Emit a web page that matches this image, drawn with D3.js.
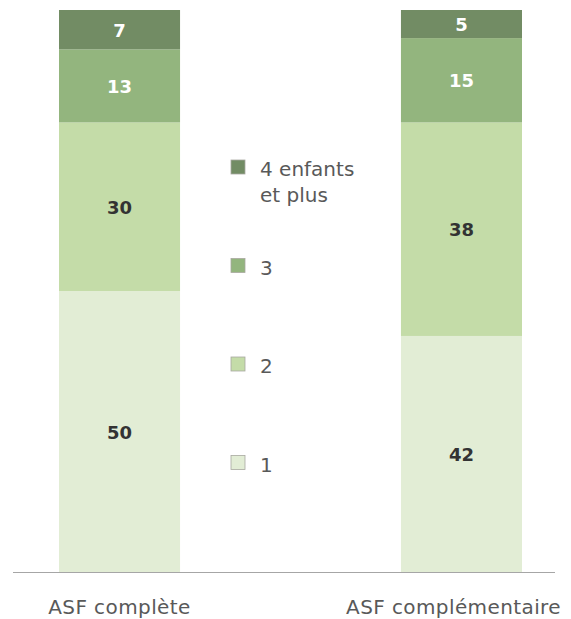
<!DOCTYPE html>
<html>
<head>
<meta charset="utf-8">
<script src="https://cdn.jsdelivr.net/npm/d3@7"></script>
<style>
  body { margin: 0; background: #fff; }
  text { font-family: "DejaVu Sans", sans-serif; }
</style>
</head>
<body>
<div id="chart"></div>
<script>
// categories and series (percent of families)
const categories = ["ASF complète", "ASF complémentaire"];
const seriesNames = ["1", "2", "3", "4 enfants et plus"];
const one = [50, 42];
const two = [30, 38];
const three = [13, 15];
const fourPlus = [7, 5];
const colors = ["#e2edd5", "#c4dca8", "#93b57e", "#728c64"];
const labelColors = ["#333333", "#333333", "#ffffff", "#ffffff"];

const width = 571, height = 619;
const svg = d3.select("#chart").append("svg")
    .attr("width", width).attr("height", height);

const x = d3.scaleBand().domain(categories).range([59, 522]).paddingInner(0.646).paddingOuter(0);
const y = d3.scaleLinear().domain([0, 100]).range([572, 10]);

const rows = categories.map((c, i) => ({
  cat: c, "1": one[i], "2": two[i], "3": three[i], "4 enfants et plus": fourPlus[i]
}));
const stacked = d3.stack().keys(seriesNames)(rows);

const layer = svg.append("g").selectAll("g")
    .data(stacked)
    .join("g")
    .attr("fill", (d, i) => colors[i]);

layer.selectAll("rect")
    .data(d => d)
    .join("rect")
    .attr("x", d => x(d.data.cat))
    .attr("width", x.bandwidth())
    .attr("y", d => y(d[1]))
    .attr("height", d => y(d[0]) - y(d[1]));

layer.selectAll("text")
    .data((d, i) => d.map(v => ({v, i})))
    .join("text")
    .attr("x", d => x(d.v.data.cat) + x.bandwidth() / 2)
    .attr("y", d => y((d.v[0] + d.v[1]) / 2) + 7)
    .attr("text-anchor", "middle")
    .attr("font-size", 18)
    .attr("font-weight", "bold")
    .attr("fill", d => labelColors[d.i])
    .text(d => d.v[1] - d.v[0]);

// axis baseline
svg.append("line")
    .attr("x1", 13).attr("x2", 555)
    .attr("y1", y(0) + 0.5).attr("y2", y(0) + 0.5)
    .attr("stroke", "#a6a6a6").attr("stroke-width", 1.2);

// category labels, kept inside the frame
svg.append("g").selectAll("text")
    .data(categories)
    .join("text")
    .attr("y", 614)
    .attr("text-anchor", "middle")
    .attr("font-size", 20)
    .attr("letter-spacing", 0.4)
    .attr("fill", "#595959")
    .text(d => d)
    .attr("x", function(d) {
      const w = this.getComputedTextLength();
      const c = x(d) + x.bandwidth() / 2;
      return Math.min(Math.max(c, 48 + w / 2), width - 10 - w / 2);
    });

// legend (top item first)
const legendItems = [
  {name: ["4 enfants", "et plus"], color: colors[3]},
  {name: ["3"], color: colors[2]},
  {name: ["2"], color: colors[1]},
  {name: ["1"], color: colors[0]}
];
const legend = svg.append("g").selectAll("g")
    .data(legendItems)
    .join("g")
    .attr("transform", (d, i) => `translate(231, ${160 + i * 98.5})`);

legend.append("rect")
    .attr("width", 14).attr("height", 14)
    .attr("fill", d => d.color)
    .attr("stroke", "#a8a8a0").attr("stroke-width", 0.8);

legend.append("text")
    .attr("x", 29).attr("y", 16)
    .attr("font-size", 20)
    .attr("fill", "#595959")
    .selectAll("tspan")
    .data(d => d.name)
    .join("tspan")
    .attr("x", 29)
    .attr("dy", (d, i) => i === 0 ? 0 : 26)
    .text(d => d);
</script>
</body>
</html>
